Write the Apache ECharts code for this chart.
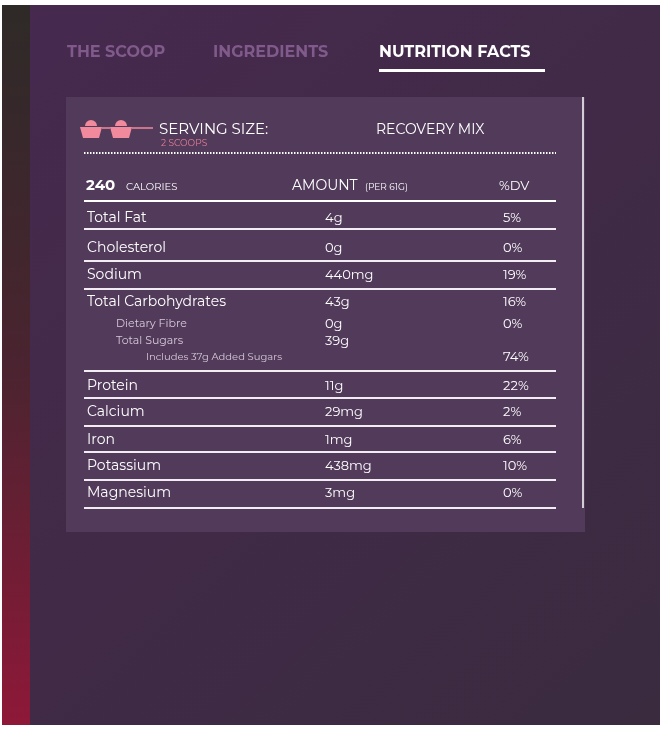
<!DOCTYPE html>
<html><head><meta charset="utf-8">
<script src="https://cdn.jsdelivr.net/npm/echarts@6/dist/echarts.min.js"></script>
<style>html,body{margin:0;padding:0;background:#fff}#panel{width:663px;height:730px}</style>
</head><body><div id="panel"></div>
<script>
// table data
var tabs = ['THE SCOOP', 'INGREDIENTS', 'NUTRITION FACTS'];
var nutrients = ['Total Fat', 'Cholesterol', 'Sodium', 'Total Carbohydrates', 'Dietary Fibre', 'Total Sugars', 'Includes 37g Added Sugars', 'Protein', 'Calcium', 'Iron', 'Potassium', 'Magnesium'];
var amounts = ['4g', '0g', '440mg', '43g', '0g', '39g', '', '11g', '29mg', '1mg', '438mg', '3mg'];
var dailyValues = ['5%', '0%', '19%', '16%', '0%', '', '74%', '22%', '2%', '6%', '10%', '0%'];
var indent = [0, 0, 0, 0, 1, 1, 2, 0, 0, 0, 0, 0];
var rowY = [218, 248, 275, 302, 324, 341, 357, 386, 412, 440, 466, 493];
var ruleY = [229, 261, 289, 371, 398, 426, 452, 480, 508];

var font = 'Montserrat, "DejaVu Sans", sans-serif';
var chart = echarts.init(document.getElementById('panel'));
var g = [];

// background
g.push({type: 'rect', shape: {x: 2, y: 5, width: 658, height: 720},
    style: {fill: new echarts.graphic.LinearGradient(0, 0, 1, 1, [{offset: 0, color: '#47294f'}, {offset: 1, color: '#3a2b3f'}])}});
g.push({type: 'rect', shape: {x: 2, y: 5, width: 28, height: 720},
    style: {fill: new echarts.graphic.LinearGradient(0, 0, 0, 1, [{offset: 0, color: '#2e2a28'}, {offset: 0.5, color: '#4a2430'}, {offset: 1, color: '#8e1838'}])}});

// tabs
var tabX = [67, 213, 379];
tabs.forEach(function (t, i) {
    g.push({type: 'text', x: tabX[i], y: 52, style: {text: t, fill: i == 2 ? '#ffffff' : '#7f5a8a',
        font: 'bold 16px ' + font, verticalAlign: 'middle'}});
});
g.push({type: 'rect', shape: {x: 379, y: 69, width: 166, height: 3}, style: {fill: '#ffffff'}});

// panel
g.push({type: 'rect', shape: {x: 66, y: 97, width: 519, height: 435}, style: {fill: '#523a5a'}});
g.push({type: 'line', shape: {x1: 583, y1: 97, x2: 583, y2: 508}, style: {stroke: '#ffffff', lineWidth: 1.5}});

// scoop icons
[80, 110].forEach(function (x) {
    g.push({type: 'polygon', shape: {points: [[x, 127], [x + 22, 127], [x + 19, 138], [x + 3, 138]]}, style: {fill: '#f08a9c'}});
    g.push({type: 'sector', shape: {cx: x + 11, cy: 126, r: 6, startAngle: Math.PI, endAngle: 2 * Math.PI}, style: {fill: '#f08a9c'}});
});
g.push({type: 'line', shape: {x1: 102, y1: 128, x2: 110, y2: 128}, style: {stroke: '#f08a9c', lineWidth: 1.5}});
g.push({type: 'line', shape: {x1: 132, y1: 128, x2: 153, y2: 128}, style: {stroke: '#f08a9c', lineWidth: 1.5}});

g.push({type: 'text', x: 159, y: 130, style: {text: 'SERVING SIZE:', fill: '#fff', font: '15px ' + font, verticalAlign: 'middle'}});
g.push({type: 'text', x: 161, y: 143, style: {text: '2 SCOOPS', fill: '#e57f97', font: '9px ' + font, verticalAlign: 'middle'}});
g.push({type: 'text', x: 376, y: 130, style: {text: 'RECOVERY MIX', fill: '#fff', font: '14px ' + font, verticalAlign: 'middle'}});
g.push({type: 'line', shape: {x1: 84, y1: 153, x2: 556, y2: 153}, style: {stroke: '#fff', lineWidth: 2, lineDash: [1.5, 1.5]}});

// header
g.push({type: 'text', x: 86, y: 186, style: {text: '240', fill: '#fff', font: 'bold 15px ' + font, verticalAlign: 'middle'}});
g.push({type: 'text', x: 126, y: 187, style: {text: 'CALORIES', fill: '#fff', font: '10px ' + font, verticalAlign: 'middle'}});
g.push({type: 'text', x: 292, y: 186, style: {text: 'AMOUNT', fill: '#fff', font: '14px ' + font, verticalAlign: 'middle'}});
g.push({type: 'text', x: 365, y: 187, style: {text: '(PER 61G)', fill: '#fff', font: '9px ' + font, verticalAlign: 'middle'}});
g.push({type: 'text', x: 499, y: 186, style: {text: '%DV', fill: '#fff', font: '13px ' + font, verticalAlign: 'middle'}});
g.push({type: 'rect', shape: {x: 84, y: 200, width: 472, height: 2}, style: {fill: '#fff'}});

// rows
nutrients.forEach(function (n, i) {
    var sub = indent[i];
    var lx = sub == 0 ? 87 : (sub == 1 ? 116 : 146);
    var fs = sub == 0 ? 14 : (sub == 1 ? 11 : 10);
    g.push({type: 'text', x: lx, y: rowY[i], style: {text: n, fill: sub ? '#d6c8da' : '#fff', font: fs + 'px ' + font, verticalAlign: 'middle'}});
    g.push({type: 'text', x: 325, y: rowY[i], style: {text: amounts[i], fill: '#fff', font: (sub ? 13 : 13) + 'px ' + font, verticalAlign: 'middle'}});
    g.push({type: 'text', x: 503, y: rowY[i], style: {text: dailyValues[i], fill: '#fff', font: '13px ' + font, verticalAlign: 'middle'}});
});
ruleY.forEach(function (y) {
    g.push({type: 'rect', shape: {x: 84, y: y - 1, width: 472, height: 2}, style: {fill: '#f2edf3'}});
});

chart.setOption({animation: false, graphic: g});
</script></body></html>
